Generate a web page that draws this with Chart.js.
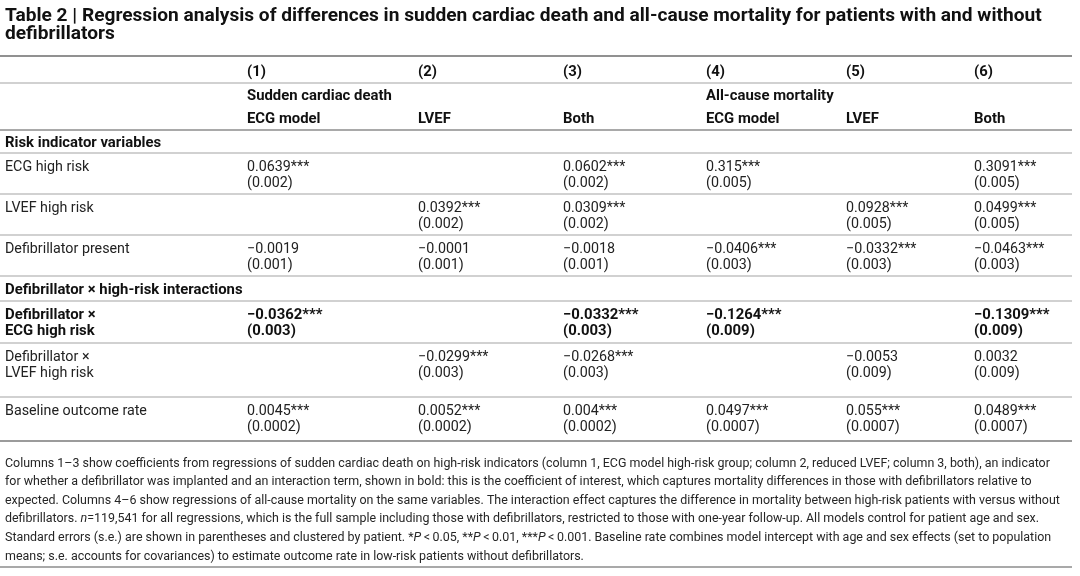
<!DOCTYPE html>
<html>
<head>
<meta charset="utf-8">
<script src="https://cdn.jsdelivr.net/npm/chart.js@4.4.1/dist/chart.umd.min.js"></script>
<style>
  html, body { margin: 0; padding: 0; background: #fff; }
  canvas { display: block; }
</style>
</head>
<body>
<canvas id="table2" width="1080" height="576"></canvas>
<script>
// table data
const title = [
  "Table 2 | Regression analysis of differences in sudden cardiac death and all-cause mortality for patients with and without",
  "defibrillators"
];
const columns = ["(1)", "(2)", "(3)", "(4)", "(5)", "(6)"];
const outcomes = ["Sudden cardiac death", "", "", "All-cause mortality", "", ""];
const models = ["ECG model", "LVEF", "Both", "ECG model", "LVEF", "Both"];
const sections = ["Risk indicator variables", "Defibrillator × high-risk interactions"];
const rowLabels = [
  ["ECG high risk"],
  ["LVEF high risk"],
  ["Defibrillator present"],
  ["Defibrillator ×", "ECG high risk"],
  ["Defibrillator ×", "LVEF high risk"],
  ["Baseline outcome rate"]
];

const ecgHighRisk      = [0.0639, null, 0.0602, 0.315, null, 0.3091];
const ecgHighRiskSE    = [0.002, null, 0.002, 0.005, null, 0.005];
const ecgHighRiskStars = [3, 0, 3, 3, 0, 3];

const lvefHighRisk      = [null, 0.0392, 0.0309, null, 0.0928, 0.0499];
const lvefHighRiskSE    = [null, 0.002, 0.002, null, 0.005, 0.005];
const lvefHighRiskStars = [0, 3, 3, 0, 3, 3];

const defibPresent      = [-0.0019, -0.0001, -0.0018, -0.0406, -0.0332, -0.0463];
const defibPresentSE    = [0.001, 0.001, 0.001, 0.003, 0.003, 0.003];
const defibPresentStars = [0, 0, 0, 3, 3, 3];

const defibEcg      = [-0.0362, null, -0.0332, -0.1264, null, -0.1309];
const defibEcgSE    = [0.003, null, 0.003, 0.009, null, 0.009];
const defibEcgStars = [3, 0, 3, 3, 0, 3];

const defibLvef      = [null, -0.0299, -0.0268, null, -0.0053, 0.0032];
const defibLvefSE    = [null, 0.003, 0.003, null, 0.009, 0.009];
const defibLvefStars = [0, 3, 3, 0, 0, 0];

const baselineRate      = [0.0045, 0.0052, 0.004, 0.0497, 0.055, 0.0489];
const baselineRateSE    = [0.0002, 0.0002, 0.0002, 0.0007, 0.0007, 0.0007];
const baselineRateStars = [3, 3, 3, 3, 3, 3];

// _x_ marks italic
const footnote = [
  "Columns 1–3 show coefficients from regressions of sudden cardiac death on high-risk indicators (column 1, ECG model high-risk group; column 2, reduced LVEF; column 3, both), an indicator",
  "for whether a defibrillator was implanted and an interaction term, shown in bold: this is the coefficient of interest, which captures mortality differences in those with defibrillators relative to",
  "expected. Columns 4–6 show regressions of all-cause mortality on the same variables. The interaction effect captures the difference in mortality between high-risk patients with versus without",
  "defibrillators. _n_=119,541 for all regressions, which is the full sample including those with defibrillators, restricted to those with one-year follow-up. All models control for patient age and sex.",
  "Standard errors (s.e.) are shown in parentheses and clustered by patient. *_P_\u2009<\u20090.05, **_P_\u2009<\u20090.01, ***_P_\u2009<\u20090.001. Baseline rate combines model intercept with age and sex effects (set to population",
  "means; s.e. accounts for covariances) to estimate outcome rate in low-risk patients without defibrillators."
];

// layout (pixels)
const FAMILY = "Roboto, 'Noto Sans', sans-serif";
const labelX = 5;
const colX = [247, 418, 563, 706, 846, 974];
const ruleEnd = 1072;
const dy = 1.5; // optical nudge for middle baseline
const titleY = [15, 33];
const headY = { cols: 71, outcomes: 95, models: 118 };
const sectionY = [142, 289];
const rowY = [166, 207, 248, 314, 356, 410];
const lineGap = 16;
const boldRow = 3;
const footY = 462, footGap = 18.6;
const rules = [
  { y: 56, c: "#6d6d6d", w: 1.6 },
  { y: 83, c: "#a3a3a3", w: 1 },
  { y: 130, c: "#8c8c8c", w: 1.4 },
  { y: 153, c: "#a3a3a3", w: 1 },
  { y: 194, c: "#a3a3a3", w: 1 },
  { y: 235, c: "#a3a3a3", w: 1 },
  { y: 276, c: "#a3a3a3", w: 1 },
  { y: 301, c: "#a3a3a3", w: 1 },
  { y: 343, c: "#a3a3a3", w: 1 },
  { y: 397, c: "#a3a3a3", w: 1 },
  { y: 441, c: "#7a7a7a", w: 1.4 },
  { y: 567, c: "#555555", w: 1.2 }
];

const fmt = v => (v < 0 ? "\u2212" : "") + Math.abs(v).toString();

const rowValues = [
  [ecgHighRisk, ecgHighRiskSE, ecgHighRiskStars],
  [lvefHighRisk, lvefHighRiskSE, lvefHighRiskStars],
  [defibPresent, defibPresentSE, defibPresentStars],
  [defibEcg, defibEcgSE, defibEcgStars],
  [defibLvef, defibLvefSE, defibLvefStars],
  [baselineRate, baselineRateSE, baselineRateStars]
];

const datasets = rowValues.map(([vals, ses, stars], r) => ({
  label: rowLabels[r].join(" "),
  data: vals.map((v, i) => v === null ? null : {
    x: colX[i], y: rowY[r] + dy,
    text: fmt(v) + "*".repeat(stars[i]),
    se: "(" + fmt(ses[i]) + ")"
  }).filter(d => d !== null),
  pointRadius: 0,
  bold: r === boldRow
}));

function fitSize(ctx, text, weight, width) {
  ctx.font = weight + " 20px " + FAMILY;
  return 20 * width / ctx.measureText(text).width;
}

function runs(ctx, str, x, y, size, color) {
  let cx = x;
  str.split("_").forEach((part, k) => {
    ctx.font = (k % 2 ? "italic " : "") + "400 " + size + "px " + FAMILY;
    ctx.fillStyle = color;
    ctx.fillText(part, cx, y);
    cx += ctx.measureText(part).width;
  });
}

const tablePlugin = {
  id: "regressionTable",
  beforeDraw(chart) {
    const ctx = chart.ctx;
    ctx.save();
    ctx.fillStyle = "#fff";
    ctx.fillRect(0, 0, chart.width, chart.height);
    ctx.restore();
  },
  afterDatasetsDraw(chart) {
    const ctx = chart.ctx;
    const sx = chart.scales.x, sy = chart.scales.y;
    const px = v => sx.getPixelForValue(v), py = v => sy.getPixelForValue(v);
    const bodySize = fitSize(ctx, "Baseline outcome rate", "400", 142);
    const boldSize = fitSize(ctx, "Sudden cardiac death", "700", 145);
    const titleSize = fitSize(ctx, title[0], "700", 1037);
    const footSize = fitSize(ctx, footnote[2], "400", 1056);
    ctx.save();
    ctx.textBaseline = "middle";
    ctx.textAlign = "left";

    // title
    ctx.fillStyle = "#111";
    ctx.font = "700 " + titleSize + "px " + FAMILY;
    title.forEach((t, i) => ctx.fillText(t, px(labelX), py(titleY[i] + dy)));

    // rules
    rules.forEach(r => {
      ctx.strokeStyle = r.c;
      ctx.lineWidth = r.w;
      ctx.beginPath();
      ctx.moveTo(px(0), py(r.y));
      ctx.lineTo(px(ruleEnd), py(r.y));
      ctx.stroke();
    });

    // column headers
    ctx.font = "700 " + boldSize + "px " + FAMILY;
    ctx.fillStyle = "#111";
    colX.forEach((x, i) => {
      ctx.fillText(columns[i], px(x), py(headY.cols + dy));
      if (outcomes[i]) ctx.fillText(outcomes[i], px(x), py(headY.outcomes + dy));
      ctx.fillText(models[i], px(x), py(headY.models + dy));
    });
    sections.forEach((s, i) => ctx.fillText(s, px(labelX), py(sectionY[i] + dy)));

    // row labels and cells
    chart.data.datasets.forEach((ds, r) => {
      ctx.font = (ds.bold ? "700 " + boldSize : "400 " + bodySize) + "px " + FAMILY;
      ctx.fillStyle = ds.bold ? "#111" : "#222";
      rowLabels[r].forEach((l, k) => ctx.fillText(l, px(labelX), py(rowY[r] + dy + k * lineGap)));
      const meta = chart.getDatasetMeta(r);
      meta.data.forEach((el, i) => {
        const d = ds.data[i];
        ctx.fillText(d.text, el.x, el.y);
        ctx.fillText(d.se, el.x, el.y + lineGap);
      });
    });

    // footnote
    footnote.forEach((line, i) => runs(ctx, line, px(labelX), py(footY + dy + i * footGap), footSize, "#262626"));
    ctx.restore();
  }
};

new Chart(document.getElementById("table2"), {
  type: "scatter",
  data: { datasets: datasets },
  options: {
    responsive: false,
    animation: false,
    layout: { padding: 0 },
    plugins: { legend: { display: false }, tooltip: { enabled: false } },
    scales: {
      x: { type: "linear", min: 0, max: 1080, display: false },
      y: { type: "linear", min: 0, max: 576, reverse: true, display: false }
    }
  },
  plugins: [tablePlugin]
});
</script>
</body>
</html>
